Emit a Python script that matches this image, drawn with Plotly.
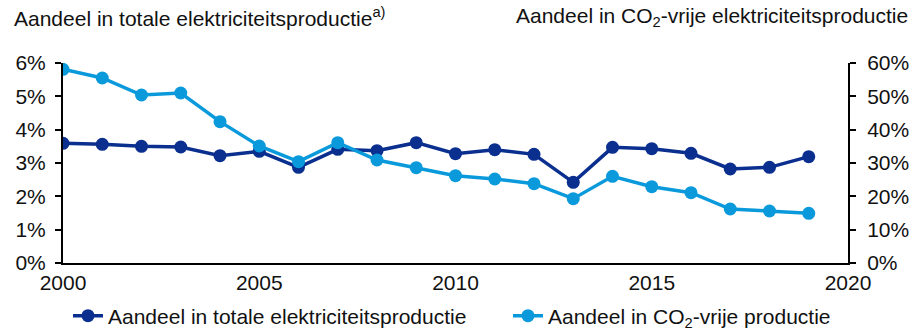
import plotly.graph_objects as go

years = list(range(2000, 2020))

# Share in total electricity production (%)
share_total = [3.59, 3.56, 3.50, 3.48, 3.22, 3.35, 2.87, 3.41, 3.37, 3.61,
               3.28, 3.40, 3.26, 2.42, 3.47, 3.43, 3.29, 2.82, 2.87, 3.19]

# Share in CO2-free production (%)
share_co2free = [58.1, 55.5, 50.4, 51.0, 42.4, 35.1, 30.4, 36.1, 30.9, 28.6,
                 26.2, 25.2, 23.8, 19.3, 26.0, 22.9, 21.1, 16.2, 15.6, 14.9]

left_ticks = [0, 1, 2, 3, 4, 5, 6]
right_ticks = [0, 10, 20, 30, 40, 50, 60]
x_ticks = [2000, 2005, 2010, 2015, 2020]

dark = "#0A2F8F"
light = "#0A9ADC"
font = "Liberation Sans, Arial, sans-serif"
fs = 21

fig = go.Figure()
fig.add_trace(go.Scatter(
    x=years, y=share_total, name="Aandeel in totale elektriciteitsproductie",
    mode="lines+markers", line=dict(color=dark, width=3.5),
    marker=dict(size=13, color=dark), yaxis="y", legend="legend"))
fig.add_trace(go.Scatter(
    x=years, y=share_co2free, name="Aandeel in CO<sub>2</sub>-vrije productie",
    mode="lines+markers", line=dict(color=light, width=3.5),
    marker=dict(size=13, color=light), yaxis="y2", legend="legend2"))

legend_common = dict(orientation="h", xref="container", yref="container",
                     xanchor="left", y=1 - 316/330, yanchor="middle",
                     font=dict(size=fs), itemwidth=30, bgcolor="rgba(0,0,0,0)")

fig.update_layout(
    width=916, height=330,
    margin=dict(l=63, r=68, t=63, b=67, autoexpand=False),
    paper_bgcolor="white", plot_bgcolor="white",
    font=dict(family=font, size=fs, color="#111111"),
    showlegend=True,
    legend=dict(x=68/916, **legend_common),
    legend2=dict(x=508/916, **legend_common),
    xaxis=dict(range=[2000, 2020], tickvals=x_ticks, showgrid=False, zeroline=False,
               showline=True, linecolor="black", linewidth=2, ticks="",
               automargin=False, tickfont=dict(size=fs)),
    yaxis=dict(range=[0, 6], tickvals=left_ticks,
               ticktext=[f"{v}%" for v in left_ticks], showgrid=False,
               zeroline=False, showline=True, linecolor="black", linewidth=2,
               ticks="outside", ticklen=6, tickwidth=2, tickcolor="black",
               ticklabelstandoff=5, automargin=False, tickfont=dict(size=fs)),
    yaxis2=dict(range=[0, 60], tickvals=right_ticks,
                ticktext=[f"{v}%" for v in right_ticks], overlaying="y",
                side="right", showgrid=False, zeroline=False, showline=True,
                linecolor="black", linewidth=2, ticks="outside", ticklen=6,
                tickwidth=2, tickcolor="black", ticklabelstandoff=7,
                automargin=False, tickfont=dict(size=fs)),
    annotations=[
        dict(text="Aandeel in totale elektriciteitsproductie<sup>a)</sup>",
             xref="paper", yref="paper", x=-51/785, y=1.0, yshift=46,
             xanchor="left", yanchor="middle", showarrow=False,
             font=dict(size=fs)),
        dict(text="Aandeel in CO<sub>2</sub>-vrije elektriciteitsproductie",
             xref="paper", yref="paper", x=1 + 62/785, y=1.0, yshift=46,
             xanchor="right", yanchor="middle", showarrow=False,
             font=dict(size=fs)),
    ],
)

fig.write_html("out.html")
